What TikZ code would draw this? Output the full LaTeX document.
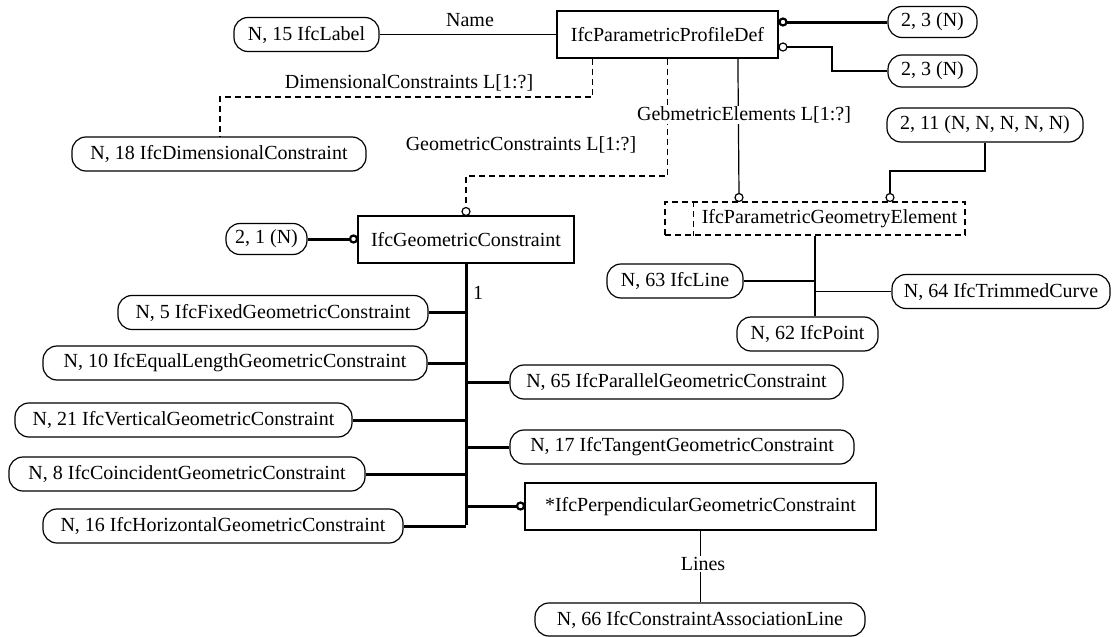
\documentclass[tikz,border=0pt]{standalone}
\usepackage{fontspec}
\setmainfont{Liberation Serif}
\usetikzlibrary{calc}
\begin{document}
\begin{tikzpicture}[x=1pt,y=-1pt,
  every node/.style={font=\fontsize{20}{22}\selectfont, inner sep=0pt},
  ent/.style={draw, line width=1.2pt, fill=white, minimum height=47},
  rbox/.style={draw, line width=1.2pt, fill=white, rounded corners=14pt, minimum height=34},
  ln/.style={line width=1.2pt},
  tk/.style={line width=3pt},
  dsh/.style={line width=1.2pt, dash pattern=on 6pt off 4pt},
  oc/.style={circle, draw, line width=1.2pt, fill=white, minimum size=8pt, inner sep=0pt},
  ocb/.style={oc, line width=2.2pt, minimum size=7pt},
  lbl/.style={fill=white, inner sep=1pt}]
\useasboundingbox (0,0) rectangle (1112,637);
% entity and type nodes
\node[rbox, minimum width=145] (label15) at (306.5,34.5) {N, 15 IfcLabel};
\node[ent, minimum width=221] (ppd) at (667.5,34.5) {IfcParametricProfileDef};
\node[rbox, minimum width=89, minimum height=31] (n23a) at (932.5,22) {2, 3 (N)};
\node[rbox, minimum width=89, minimum height=32] (n23b) at (932.5,71) {2, 3 (N)};
\node[rbox, minimum width=294] (dim18) at (219,154) {N, 18 IfcDimensionalConstraint};
\node[rbox, minimum width=196] (n211) at (985,125) {2, 11 (N, N, N, N, N)};
\node[draw, dsh, minimum width=300, minimum height=33] (pge) at (815,218.5) {};
\draw[dsh] ($(pge.north west)+(29,0)$) -- ($(pge.south west)+(29,0)$);
\node (pgetext) at (829.5,218.5) {IfcParametricGeometryElement};
\node[ent, minimum width=216] (gc) at (466,239.5) {IfcGeometricConstraint};
\node[rbox, minimum width=81, minimum height=31] (n21) at (266.5,239) {2, 1 (N)};
\node[rbox, minimum width=136] (line63) at (675,281) {N, 63 IfcLine};
\node[rbox, minimum width=218] (tc64) at (1001,291.5) {N, 64 IfcTrimmedCurve};
\node[rbox, minimum width=141] (pt62) at (807.5,334) {N, 62 IfcPoint};
\node[rbox, minimum width=310] (fix5) at (273,312.5) {N, 5 IfcFixedGeometricConstraint};
\node[rbox, minimum width=384] (eq10) at (235,363) {N, 10 IfcEqualLengthGeometricConstraint};
\node[rbox, minimum width=333] (par65) at (676.5,382) {N, 65 IfcParallelGeometricConstraint};
\node[rbox, minimum width=337] (vert21) at (183.5,420) {N, 21 IfcVerticalGeometricConstraint};
\node[rbox, minimum width=344] (tan17) at (682,447) {N, 17 IfcTangentGeometricConstraint};
\node[rbox, minimum width=356] (coin8) at (187,474) {N, 8 IfcCoincidentGeometricConstraint};
\node[ent, minimum width=351] (perp) at (700.5,506.5) {*IfcPerpendicularGeometricConstraint};
\node[rbox, minimum width=360] (hor16) at (223,526) {N, 16 IfcHorizontalGeometricConstraint};
\node[rbox, minimum width=330, minimum height=33] (cal66) at (700,619.5) {N, 66 IfcConstraintAssociationLine};
% bend points
\coordinate (k1) at (220,97);
\coordinate (k2) at (466,176);
\coordinate (k3) at (890,171);
\coordinate (bus) at (466,525);
% connectors
\draw[ln] (label15) -- (ppd);
\draw[tk] (783,22) coordinate (c1pos) -- (n23a);
\draw[ln] (787,47) coordinate (c2pos) -- ++(45,0) |- (n23b.west);
\draw[dsh] ($(ppd.south west)+(36,0)$) |- (k1) -- (k1 |- dim18.north);
\draw[dsh] (ppd.south) |- (k2) -- (466,208);
\draw[ln] ($(ppd.south west)+(181.5,0)$) -- (739,194);
\draw[ln] (n211.south) |- (k3) -- (890,194);
\draw[tk] (n21) -- (350,239);
\draw[tk] (gc.south) -- (bus);
\draw[tk] (fix5.east) -- (fix5.east -| bus);
\draw[tk] (eq10.east) -- (eq10.east -| bus);
\draw[tk] (vert21.east) -- (vert21.east -| bus);
\draw[tk] (coin8.east) -- (coin8.east -| bus);
\draw[tk] (hor16.east) -- (hor16.east -| bus);
\draw[tk] (par65.west) -- (par65.west -| bus);
\draw[tk] (tan17.west) -- (tan17.west -| bus);
\draw[tk] (517,506) -- (517,506 -| bus);
\draw[ln] (pge.south) -- (pge.south |- pt62.north);
\draw[ln] (line63.east) -- (line63.east -| pge.south);
\draw[ln] (tc64.west) -- (tc64.west -| pge.south);
\draw[ln] (perp.south) -- (perp.south |- cal66.north);
% open circles
\node[ocb] (c1) at (783,22) {};
\node[oc] (c2) at (783,47) {};
\node[oc] (c3) at (466,211.5) {};
\node[oc] (c4) at (739,197.5) {};
\node[oc] (c5) at (890,197.5) {};
\node[ocb] (c6) at (353.5,239) {};
\node[ocb] (c7) at (520.5,506) {};
% labels
\node (lname) at (470,20) {Name};
\node (ldim) at (409,83) {DimensionalConstraints L[1:?]};
\node (lgeo) at (521,145) {GeometricConstraints L[1:?]};
\node[lbl] (lgel) at (744,115) {GebmetricElements L[1:?]};
\node (lone) at (478,293) {1};
\node[lbl] (llines) at (703,564) {Lines};
\end{tikzpicture}
\end{document}
